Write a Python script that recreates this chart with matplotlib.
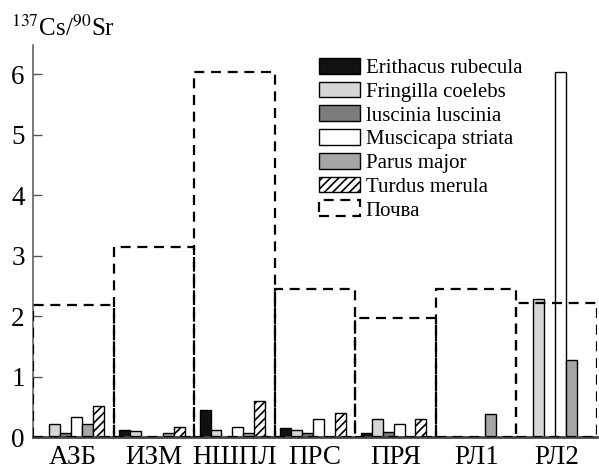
import numpy as np
import matplotlib.pyplot as plt
from matplotlib.patches import Patch

plt.rcParams['font.family'] = ['Liberation Serif', 'DejaVu Serif']
plt.rcParams['mathtext.fontset'] = 'stix'
plt.rcParams['hatch.linewidth'] = 1.2

# Данные (оценка по рисунку)
sites = ['АЗБ', 'ИЗМ', 'НШПЛ', 'ПРС', 'ПРЯ', 'РЛ1', 'РЛ2']
species = ['Erithacus rubecula', 'Fringilla coelebs', 'luscinia luscinia',
           'Muscicapa striata', 'Parus major', 'Turdus merula']
erithacus = [0.0, 0.12, 0.45, 0.15, 0.07, 0.0, 0.0]
fringilla = [0.21, 0.10, 0.11, 0.11, 0.30, 0.0, 2.28]
luscinia = [0.07, 0.0, 0.0, 0.07, 0.09, 0.0, 0.0]
muscicapa = [0.33, 0.0, 0.16, 0.30, 0.21, 0.0, 6.04]
parus = [0.21, 0.07, 0.07, 0.0, 0.0, 0.38, 1.27]
turdus = [0.52, 0.17, 0.60, 0.40, 0.29, 0.0, 0.0]
soil = [2.19, 3.14, 6.03, 2.44, 1.97, 2.44, 2.21]

series = [erithacus, fringilla, luscinia, muscicapa, parus, turdus]
colors = ['#111111', '#d6d6d6', '#7c7c7c', '#ffffff', '#a6a6a6', '#ffffff']
hatches = [None, None, None, None, None, '////']

fig = plt.figure(figsize=(5.99, 4.70), dpi=100)
ax = fig.add_axes([0.0551, 0.0702, 0.9416, 0.834])

x = np.arange(len(sites))
w = 0.136
for i, vals in enumerate(series):
    vals = np.array(vals)
    m = vals > 0
    ax.bar(x[m] + (i - 2.5) * w - 0.025, vals[m], width=w, color=colors[i],
           edgecolor='black', linewidth=1.0, hatch=hatches[i], zorder=2)

# Почва - пунктирные рамки
ax.bar(x, soil, width=1.0, fill=False, edgecolor='black', linewidth=1.6,
       linestyle=(0, (4.5, 3)), zorder=3)

ax.set_xlim(-0.5, 6.5)
ax.set_ylim(0, 6.48)
ax.set_xticks(x)
ax.set_xticklabels(sites, fontsize=19.5)
ax.set_yticks(range(7))
ax.tick_params(axis='y', direction='in', length=6.5, width=1, color='#555555',
               labelsize=19.5, pad=6)
ax.tick_params(axis='x', length=0, pad=6)
for s in ['top', 'right']:
    ax.spines[s].set_visible(False)
ax.spines['left'].set_color('#555555')
ax.spines['left'].set_linewidth(1.1)
ax.spines['bottom'].set_color('#444444')
ax.spines['bottom'].set_linewidth(2)

fig.text(0.018, 0.923, '$^{137}$Cs/$^{90}$Sr', fontsize=18, ha='left', va='baseline')

handles = [Patch(facecolor=colors[i], edgecolor='black', linewidth=1.0,
                 hatch=hatches[i], label=species[i]) for i in range(6)]
handles.append(Patch(facecolor='none', edgecolor='black', linewidth=1.6,
                     linestyle=(0, (4.5, 3)), label='Почва'))
ax.legend(handles=handles, loc='upper left', bbox_to_anchor=(0.532, 0.877),
          bbox_transform=fig.transFigure, frameon=False, fontsize=15,
          handlelength=2.0, handleheight=0.8, handletextpad=0.25,
          labelspacing=0.17, borderpad=0, borderaxespad=0)

plt.savefig('out.png', dpi=100)
